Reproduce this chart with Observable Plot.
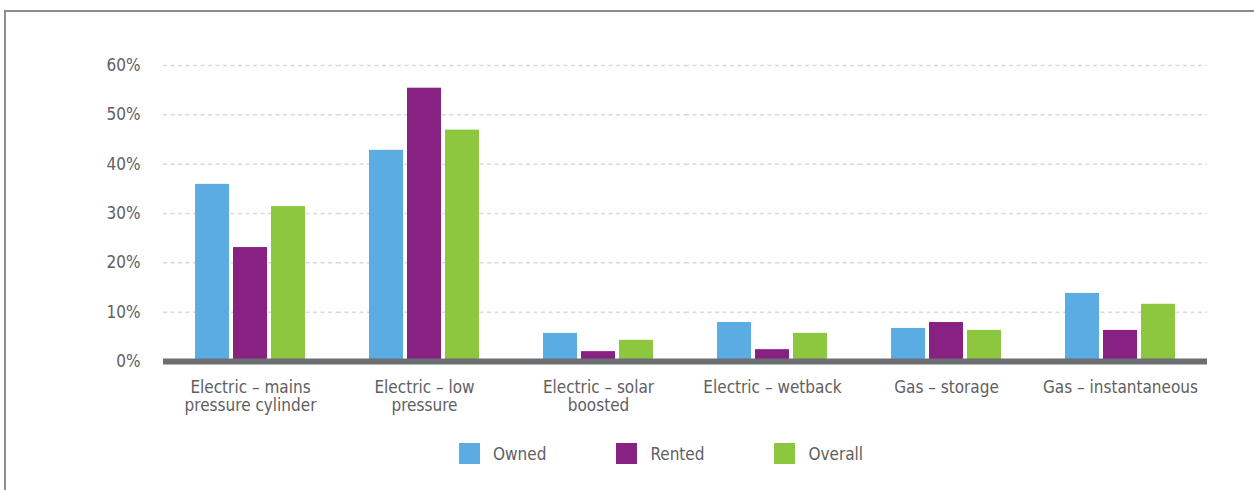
<!DOCTYPE html>
<html>
<head>
<meta charset="utf-8">
<script src="https://cdn.jsdelivr.net/npm/d3@7"></script>
<script src="https://cdn.jsdelivr.net/npm/@observablehq/plot@0.6"></script>
<style>
  html, body { margin: 0; padding: 0; background: #fff; }
  body { width: 1254px; height: 490px; overflow: hidden; }
  #frame {
    margin: 10px 0 0 4px;
    border-left: 2px solid #8c8c8c;
    border-top: 2px solid #8c8c8c;
    height: 478px;
    font-family: "DejaVu Sans Condensed", "Liberation Sans", sans-serif;
    color: #5f6062;
  }
  #legend {
    display: flex;
    align-items: center;
    padding-left: 453px;
    margin-top: 17px;
    font-size: 17px;
  }
  #legend .item { display: flex; align-items: center; margin-right: 70px; }
  #legend .swatch { width: 21px; height: 21px; margin-right: 13px; }
</style>
</head>
<body>
<div id="frame">
  <div id="chart"></div>
  <div id="legend"></div>
</div>
<script>
// Hot water system type by tenure (share of households)
const categories = [
  "Electric – mains pressure cylinder",
  "Electric – low pressure",
  "Electric – solar boosted",
  "Electric – wetback",
  "Gas – storage",
  "Gas – instantaneous"
];
const tickLabels = [
  "Electric – mains\npressure cylinder",
  "Electric – low\npressure",
  "Electric – solar\nboosted",
  "Electric – wetback",
  "Gas – storage",
  "Gas – instantaneous"
];
const series = ["Owned", "Rented", "Overall"];
const owned   = [35.9, 42.8, 5.7, 7.9, 6.7, 13.8];
const rented  = [23.1, 55.4, 2.0, 2.4, 7.9, 6.3];
const overall = [31.4, 46.9, 4.3, 5.7, 6.3, 11.6];
const yTicks = [0, 10, 20, 30, 40, 50, 60];
const colors = ["#5aace2", "#872283", "#8dc63f"];

const valuesBySeries = [owned, rented, overall];
const rows = [];
categories.forEach((c, i) => {
  series.forEach((s, j) => rows.push({category: c, series: s, value: valuesBySeries[j][i]}));
});

const chart = Plot.plot({
  width: 1248,
  height: 414,
  marginLeft: 157,
  marginRight: 47,
  marginTop: 53,
  marginBottom: 65,
  style: {
    fontFamily: "'DejaVu Sans Condensed', 'Liberation Sans', sans-serif",
    fontSize: "17px",
    color: "#5f6062",
    background: "transparent"
  },
  // one facet per system type; facets touch so the gridlines run unbroken
  fx: {domain: categories, padding: 0, axis: null},
  x: {domain: series, axis: null, paddingInner: 0.1, paddingOuter: 0.81},
  y: {
    domain: [0, 60],
    ticks: yTicks,
    tickFormat: d => d + "%",
    tickSize: 0,
    tickPadding: 23,
    label: null
  },
  color: {domain: series, range: colors},
  marks: [
    Plot.ruleY(yTicks.slice(1), {stroke: "#d9d9d9", strokeWidth: 1.5, strokeDasharray: "4,3.5"}),
    Plot.barY(rows, {fx: "category", x: "series", y: "value", fill: "series"}),
    Plot.ruleY([0], {stroke: "#6d6e71", strokeWidth: 6}),
    Plot.axisFx({
      anchor: "bottom",
      label: null,
      tickSize: 0,
      tickPadding: 18,
      lineHeight: 1.08,
      tickFormat: d => tickLabels[categories.indexOf(d)]
    })
  ]
});
document.getElementById("chart").appendChild(chart);

// Legend row under the chart
const legend = d3.select("#legend");
series.forEach((s, i) => {
  const item = legend.append("div").attr("class", "item");
  item.append("div").attr("class", "swatch").style("background", colors[i]);
  item.append("span").text(s);
});
</script>
</body>
</html>
